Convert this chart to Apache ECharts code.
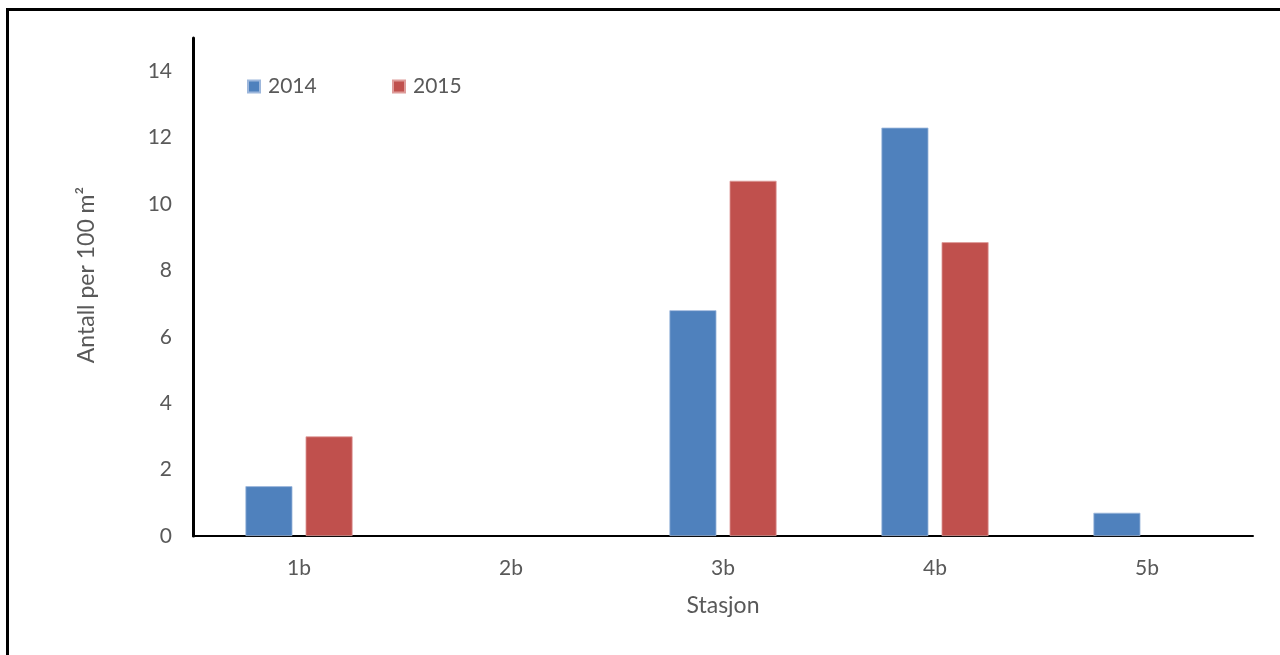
<!DOCTYPE html>
<html>
<head>
<meta charset="utf-8">
<script src="https://cdn.jsdelivr.net/npm/echarts@6/dist/echarts.min.js"></script>
<style>
  html, body { margin: 0; padding: 0; background: #ffffff; }
  #chart { width: 1280px; height: 655px; }
</style>
</head>
<body>
<div id="chart"></div>
<script>
// Stations along the x axis
const stations = ['1b', '2b', '3b', '4b', '5b'];
// Density per 100 m² for each year (null = nothing recorded)
const values2014 = [1.5, null, 6.8, 12.3, 0.7];
const values2015 = [3.0, null, 10.7, 8.85, null];
// Labelled ticks on the value axis
const yTicks = [0, 2, 4, 6, 8, 10, 12, 14];

const textColor = '#595959';
const fontFamily = 'Lato, "Open Sans", sans-serif';

const chart = echarts.init(document.getElementById('chart'), null, { renderer: 'canvas' });

chart.setOption({
  backgroundColor: '#ffffff',
  animation: false,
  textStyle: { fontFamily: fontFamily, color: textColor },
  graphic: [{
    type: 'rect',
    shape: { x: 7.5, y: 9.5, width: 1400, height: 800 },
    style: { fill: 'none', stroke: '#000000', lineWidth: 3 },
    silent: true
  }],
  legend: [{
    data: ['2014'],
    left: 242, top: 71,
    icon: 'rect', itemWidth: 12, itemHeight: 12,
    textStyle: { fontSize: 21, color: textColor, fontFamily: fontFamily, padding: [0, 0, 0, 3] }
  }, {
    data: ['2015'],
    left: 387, top: 71,
    icon: 'rect', itemWidth: 12, itemHeight: 12,
    textStyle: { fontSize: 21, color: textColor, fontFamily: fontFamily, padding: [0, 0, 0, 3] }
  }],
  grid: { left: 193, right: 27, top: 38, bottom: 119, containLabel: false },
  xAxis: {
    type: 'category',
    data: stations,
    name: 'Stasjon',
    nameLocation: 'middle',
    nameGap: 58,
    nameTextStyle: { fontSize: 23, color: textColor, fontFamily: fontFamily },
    axisLine: { lineStyle: { color: '#000000', width: 2 } },
    axisTick: { show: false },
    axisLabel: { fontSize: 21, color: textColor, margin: 22, fontFamily: fontFamily }
  },
  yAxis: {
    type: 'value',
    min: 0, max: 15, interval: 2,
    name: 'Antall per 100 m²',
    nameLocation: 'middle',
    nameGap: 95,
    nameTextStyle: { fontSize: 23, color: textColor, fontFamily: fontFamily, padding: [0, 0, 0, 24] },
    axisLine: { show: true, lineStyle: { color: '#000000', width: 3 } },
    axisTick: { show: false },
    splitLine: { show: false },
    axisLabel: {
      fontSize: 21, color: textColor, margin: 21, fontFamily: fontFamily,
      formatter: v => (yTicks.includes(v) ? String(v) : '')
    }
  },
  series: [{
    name: '2014',
    type: 'bar',
    data: values2014,
    barWidth: 47,
    barGap: '28%',
    itemStyle: { color: '#4F81BD', borderColor: '#9DB7DC', borderWidth: 0.8 }
  }, {
    name: '2015',
    type: 'bar',
    data: values2015,
    barWidth: 47,
    barGap: '28%',
    itemStyle: { color: '#C0504D', borderColor: '#DE9C9A', borderWidth: 0.8 }
  }]
});
</script>
</body>
</html>
